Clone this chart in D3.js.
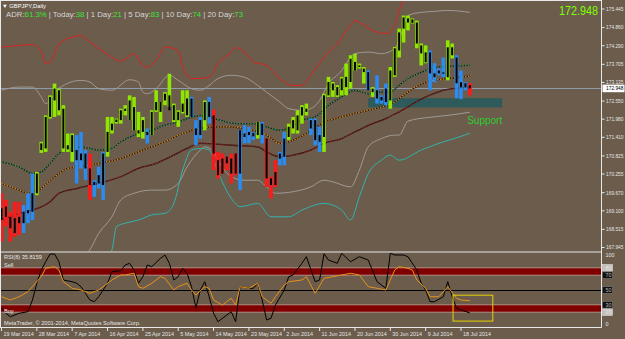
<!DOCTYPE html>
<html>
<head>
<meta charset="utf-8">
<script src="https://cdn.jsdelivr.net/npm/d3@7/dist/d3.min.js"></script>
<style>
  html, body { margin: 0; padding: 0; background: #6b5c4c; }
  svg { display: block; font-family: "Liberation Sans", "DejaVu Sans", Arial, sans-serif; }
</style>
</head>
<body>
<div id="chart"></div>
<script>
// ----------------------------------------------------------------------------
// DATA (GBPJPY daily, 19 Mar 2014 .. 21 Jul 2014, one entry per bar)
// ----------------------------------------------------------------------------
const barColor = ('rrrrrbbbgg' + 'gggggggbbb' + 'rbbbgggggg' + 'gggbgggggg' + 'gggbbbgbrr' +
                  'rrrrbbbbgb' + 'rrrbbggggg' + 'bbbggggggg' + 'gggbgbbbgg' + 'gggggggbbb' +
                  'bggbbbr').split('');

const barOpen = [169.18,169.23,168.91,168.87,168.91,169.07,169.12,169.65,169.65,171.01,
  171.06,172.05,172.57,172.26,172.31,171.03,170.95,171.01,170.90,170.90,
  170.43,170.01,170.22,169.91,170.95,171.63,171.89,171.95,172.24,171.95,
  172.36,171.53,171.58,171.58,171.48,172.26,172.21,172.57,172.73,171.95,
  171.95,172.21,172.10,172.63,171.69,171.48,171.95,172.52,172.10,170.69,
  170.74,170.80,170.74,170.90,170.27,171.53,171.58,171.55,171.48,171.84,
  171.37,170.12,170.32,170.74,170.80,171.42,171.69,171.63,172.10,172.21,
  171.95,171.95,171.48,171.42,172.73,172.89,172.73,172.89,172.99,173.15,
  173.51,173.62,173.46,173.46,172.83,172.89,172.68,172.94,172.57,173.36,
  174.14,174.83,175.02,175.01,175.02,174.30,174.08,174.08,173.42,173.51,
  173.45,173.30,174.24,173.92,173.14,173.11,173.05];
const barHigh = [169.65,169.44,169.07,169.38,169.38,169.28,169.65,170.27,170.32,171.27,
  172.10,172.73,173.10,172.94,172.42,171.53,171.53,171.48,171.58,171.01,
  170.90,170.06,170.48,170.95,172.05,172.05,172.00,172.31,172.42,172.73,
  172.68,172.21,172.05,171.69,172.26,172.89,172.52,172.83,173.41,172.47,
  172.26,172.89,172.89,172.68,171.95,172.05,172.57,172.68,172.28,170.95,
  170.90,170.80,170.90,170.90,171.63,171.79,171.74,171.58,171.89,171.89,
  171.37,170.17,170.69,170.95,171.58,171.84,172.05,172.26,172.42,172.47,
  172.00,172.00,171.74,172.78,173.31,173.15,173.05,173.31,173.73,173.99,
  174.04,173.73,173.62,173.51,172.99,173.36,172.73,173.10,173.62,174.25,
  174.83,175.24,175.24,175.15,175.08,174.36,174.30,174.14,173.74,173.58,
  173.92,174.46,174.36,173.99,173.51,173.14,173.11];
const barLow = [168.13,168.60,168.13,168.28,168.34,168.40,168.71,168.81,169.59,170.92,
  170.95,172.00,172.05,172.10,170.95,170.95,170.64,169.96,170.43,170.06,
  169.44,169.54,169.80,169.44,170.80,171.53,171.84,171.84,172.10,171.95,
  171.63,171.42,171.37,171.22,171.48,172.21,171.89,172.42,172.36,171.89,
  171.74,172.16,172.05,172.05,171.16,171.37,171.63,171.84,170.38,170.12,
  170.27,170.38,169.96,170.22,169.75,171.22,171.22,171.32,171.37,171.22,
  169.85,169.49,169.85,170.53,170.53,171.32,171.53,171.53,171.84,172.10,
  171.48,171.16,170.95,170.95,172.68,172.68,172.68,172.73,172.73,172.94,
  173.51,173.57,173.10,172.89,172.68,172.47,172.47,172.42,172.31,173.31,
  173.92,174.39,174.77,174.99,174.21,173.67,173.74,172.89,173.14,173.36,
  173.30,173.20,173.89,172.64,172.61,172.89,172.73];
const barClose = [168.81,168.91,168.55,168.40,168.71,168.71,169.02,169.07,170.27,171.22,
  172.05,172.68,172.94,172.89,171.06,171.16,171.48,170.69,170.69,170.43,
  169.91,169.91,169.96,170.90,171.58,171.84,171.97,172.26,172.31,172.57,
  171.63,171.63,171.95,171.48,172.21,172.52,172.52,172.78,172.26,172.42,
  172.21,172.47,172.63,172.05,171.48,171.95,172.52,172.05,170.90,170.22,
  170.27,170.59,170.27,170.27,171.63,171.42,171.48,171.44,171.89,171.48,
  170.12,169.91,169.91,170.90,171.37,171.74,171.95,172.10,172.36,172.31,
  171.69,171.32,171.27,172.73,173.15,173.10,172.99,173.26,173.31,173.88,
  173.78,173.67,173.57,172.89,172.94,172.63,172.57,172.52,173.51,174.21,
  174.71,175.18,175.15,175.12,174.36,174.05,173.77,173.42,173.30,173.42,
  173.41,174.24,173.99,173.11,172.98,172.98,172.948];

const dateLabels = ['19 Mar 2014','28 Mar 2014','7 Apr 2014','16 Apr 2014','25 Apr 2014',
  '5 May 2014','14 May 2014','23 May 2014','2 Jun 2014','11 Jun 2014','20 Jun 2014',
  '30 Jun 2014','9 Jul 2014','18 Jul 2014'];
const dateLabelEvery = 8; /* one label per 8 bars */

const priceTicks = [175.445,174.860,174.290,173.705,173.135,172.550,171.980,171.410,
  170.825,170.255,169.670,169.100,168.515,167.945];
const lastPrice = 172.948;

// indicator lines: [bar, price]
const bandRedUpper = [[0,174.25],[4,174.30],[7,174.33],[9,174.09],[10,173.73],[11,173.78],[13,174.35],
  [15,174.51],[18,174.61],[19,174.51],[22,174.20],[25,173.93],[27,173.81],[30,174.04],[32,173.67],
  [33,173.62],[35,173.83],[37,174.25],[40,174.14],[41,173.62],[43,173.26],[45,173.26],[47,173.30],
  [49,173.73],[52,174.09],[53,174.23],[55,174.09],[57,173.78],[60,173.67],[63,173.26],[66,173.04],
  [68,173.04],[70,173.36],[73,173.93],[76,174.35],[79,174.93],[80,175.08],[81,175.03],[84,174.77],
  [87,174.67],[89,174.93],[90,175.40],[92,176.03]];
const bandGrayUpper = [[0,172.89],[4,172.99],[7,172.99],[9,172.68],[10,172.47],[13,172.95],[18,173.20],
  [20,173.15],[22,172.94],[25,172.89],[29,173.22],[31,173.15],[32,172.83],[33,172.78],[35,172.94],
  [38,173.36],[40,173.20],[43,172.94],[45,172.89],[47,173.04],[49,173.26],[52,173.36],[55,173.30],
  [58,173.04],[60,172.83],[63,172.52],[65,172.31],[68,172.26],[70,172.31],[72,172.57],[74,173.10],
  [77,173.51],[78,173.73],[80,174.04],[83,174.09],[86,174.04],[89,174.20],[90,174.46],[92,175.24],
  [95,175.34],[98,175.37],[101,175.40],[106,175.34]];
const bandGrayLower = [[10,166.90],[17,167.40],[20,167.87],[22,168.39],[25,168.91],[27,169.44],
  [30,169.65],[34,169.75],[37,169.75],[40,169.96],[42,170.48],[45,171.01],[46,171.11],[48,170.95],
  [49,170.69],[52,170.17],[55,170.06],[58,170.06],[60,169.85],[62,169.65],[66,169.70],[70,169.85],
  [73,170.06],[75,170.01],[79,169.85],[81,170.38],[83,171.11],[86,171.37],[89,171.48],[90,171.48],
  [92,171.92],[97,172.04],[101,172.10],[106,172.20]];
const bandCyanLower = [[20,167.00],[25,167.87],[26,168.60],[28,168.71],[31,168.81],[34,168.97],
  [37,169.02],[39,169.33],[41,170.38],[43,171.01],[45,171.06],[47,171.01],[49,170.32],[52,169.49],
  [54,169.23],[58,169.33],[61,168.91],[65,168.91],[68,169.12],[73,169.33],[77,169.12],[79,168.81],
  [81,169.54],[83,170.27],[86,170.69],[88,170.85],[90,170.69],[95,171.01],[99,171.22],[104,171.44],
  [106,171.54]];
const maFast = [[0,170.64],[4,170.48],[7,170.27],[9,170.32],[11,170.59],[13,170.90],[15,171.01],
  [18,171.11],[20,171.06],[22,171.01],[25,171.06],[27,171.27],[30,171.48],[34,171.63],[37,171.79],
  [40,171.89],[42,172.00],[45,172.10],[48,172.00],[51,171.89],[54,171.84],[57,171.84],[60,171.74],
  [63,171.63],[65,171.69],[68,171.95],[71,172.05],[74,172.42],[77,172.68],[80,172.89],[83,172.78],
  [86,172.83],[88,172.83],[90,173.05],[92,173.26],[95,173.45],[97,173.58],[101,173.64],[106,173.67]];
const maMedium = [[0,169.96],[4,169.75],[6,169.65],[9,169.80],[12,170.17],[15,170.43],[18,170.48],
  [22,170.59],[27,170.74],[30,170.90],[34,171.11],[37,171.27],[41,171.53],[45,171.69],[49,171.74],
  [52,171.74],[56,171.65],[60,171.48],[63,171.22],[65,171.27],[69,171.53],[73,171.89],[77,172.05],
  [80,172.16],[83,172.26],[86,172.36],[89,172.52],[90,172.63],[96,173.14],[101,173.26],[106,173.33]];
const maSlow = [[0,168.81],[4,169.02],[7,169.12],[11,169.38],[13,169.65],[17,169.80],[22,169.96],
  [27,170.17],[31,170.43],[35,170.59],[39,170.85],[42,171.06],[45,171.22],[52,171.16],[58,171.11],
  [60,170.95],[63,170.80],[66,170.85],[70,171.01],[73,171.22],[77,171.37],[80,171.58],[84,171.84],
  [87,172.00],[90,172.21],[96,172.68],[101,172.92],[106,172.97]];

const supportZone = {fromBar: 83, toBar: 113.3, top: 172.64, bottom: 172.35, label: 'Support', labelBar: 105.4, labelPrice: 171.82};

const headerStats = [['ADR:', '61.3%'], [' | Today:', '38'], [' | 1 Day:', '21'], [' | 5 Day:', '83'],
  [' | 10 Day:', '74'], [' | 20 Day:', '73']];

// oscillator panel: [bar, value]
const rsiMain = [[0,40.9],[2,36.5],[4,40.9],[6,47.7],[7,54.5],[9,68],[10,79.3],[12,81.5],[13,77],
  [14,61.2],[16,52.3],[18,50],[20,45.5],[22,50],[25,63.5],[27,70.3],[28,70.3],[30,72.6],[31,54.5],
  [32,52.3],[34,59.1],[36,68],[37,65.8],[39,50],[40,54.5],[42,59.1],[43,50],[44,43.2],[46,54.5],
  [47,52.3],[48,36.5],[50,29.7],[51,34.2],[52,38.8],[53,29.7],[54,54.5],[56,52.3],[58,59.1],
  [59,40.9],[61,32],[62,40.9],[64,56.8],[65,61.2],[68,63.5],[69,68],[71,45.5],[73,65.8],[75,68],
  [77,70.3],[79,72.6],[81,70.3],[83,54.5],[85,52.3],[87,50],[89,77],[90,81.5],[92,79.3],[93,77],
  [94,63.5],[96,52.3],[97,40.9],[99,40.9],[101,54.5],[103,38.8],[104,36.5],[106,35.5]];
const rsiFast = [[0,25.3],[1,18.5],[2,13.9],[4,18.5],[6,20.7],[7,36.5],[8,59.1],[9,77],[10,88.2],
  [11,98.6],[12,98.6],[13,88.2],[14,63.5],[16,61.2],[17,59.1],[18,54.5],[20,36.5],[21,34.2],
  [22,40.9],[24,59.1],[25,74.7],[27,76.1],[28,83.8],[29,86.1],[30,77],[31,59.1],[32,68],[33,83.8],
  [34,81.5],[36,92.8],[37,97.3],[38,86.1],[39,63.5],[40,68],[41,79.3],[42,72.6],[43,54.5],[44,25.7],
  [45,50],[46,61.2],[47,40.9],[48,18.5],[49,7.2],[51,16.2],[52,20.7],[53,7.2],[54,54.5],[56,52.3],
  [57,52.3],[58,59.1],[59,36.5],[60,9.5],[61,11.8],[62,29.7],[64,50],[65,68],[66,70.3],[68,86.1],
  [69,95],[71,61.2],[72,63.5],[73,99],[74,90.5],[76,86.1],[77,99.6],[79,88.2],[81,95],[83,90.5],
  [85,61.2],[87,52.3],[88,99.6],[89,97.3],[91,97.3],[92,95],[94,77],[95,59.1],[96,50],[97,34.2],
  [98,34.2],[100,40.9],[101,61.2],[102,40.9],[103,25.3],[104,23],[106,19]];
const rsiBands = [[70, 80], [20, 30]];
const rsiLevelLines = [80, 70, 30, 20];
const rsiAxisLabels = [[100, 'none'], [80, 'light'], [70, 'dark'], [50, 'dark'], [30, 'dark'], [20, 'light'], [0, 'none']];
const rsiTitle = 'RSI(8) 35.8159';
const highlightBox = {fromBar: 102.2, toBar: 111.2, top: 43, bottom: 8};

const colorVariables = {
  background: '#6b5c4c',
  frame: '#e8e8e8',
  text: '#e6e6e6',
  candle: {g: '#8fe600', b: '#2a8cf0', r: '#ff1a1a'},
  bandRed: '#dc2420',
  bandGray: '#a09a94',
  bandCyan: '#33b3ad',
  maFast: '#3f9b62',
  maMedium: '#e38a1a',
  maSlow: '#9a1e1e',
  priceLine: '#8c9bab',
  support: '#2e5a5b',
  supportText: '#30cc30',
  lime: '#7fff00',
  statGreen: '#33e633',
  rsiBand: '#800000',
  rsiLevel: '#bca59a',
  rsiMain: '#e6931a',
  highlight: '#e6d200',
};

// ----------------------------------------------------------------------------
// SIZE + SCALES
// ----------------------------------------------------------------------------
const svgWidth = 625, svgHeight = 339;
const axisX = 601.5;
const mainTop = 1, mainBottom = 251.5;
const rsiTop = 253, rsiBottom = 327;

const svg = d3.select('#chart').append('svg')
  .attr('width', svgWidth)
  .attr('height', svgHeight);

svg.append('rect')
  .attr('width', svgWidth).attr('height', svgHeight)
  .attr('fill', colorVariables.background);

const xScale = d3.scaleLinear().domain([0, 104]).range([1.5, 461]);
const yScale = d3.scaleLinear().domain([167.945, 175.445]).range([247.5, 9]);
const rsiScale = d3.scaleLinear().domain([0, 100]).range([rsiBottom, rsiTop]);

const defs = svg.append('defs');
defs.append('clipPath').attr('id', 'clip-main')
  .append('rect').attr('x', 1).attr('y', mainTop).attr('width', axisX - 1).attr('height', mainBottom - mainTop);
defs.append('clipPath').attr('id', 'clip-rsi')
  .append('rect').attr('x', 1).attr('y', rsiTop).attr('width', axisX - 1).attr('height', rsiBottom - rsiTop);

const layers = {
  main: svg.append('g').attr('clip-path', 'url(#clip-main)'),
  rsi: svg.append('g').attr('clip-path', 'url(#clip-rsi)'),
  frame: svg.append('g'),
  axis: svg.append('g').attr('font-size', 5.4).attr('fill', colorVariables.text),
  labels: svg.append('g'),
};

const pairLine = d3.line().x(d => xScale(d[0])).y(d => yScale(d[1])).curve(d3.curveMonotoneX);
const rsiLine = d3.line().x(d => xScale(d[0])).y(d => rsiScale(d[1]));

// ----------------------------------------------------------------------------
// MAIN PANEL: support zone, price line, bands, moving averages, bars
// ----------------------------------------------------------------------------
layers.main.append('rect')
  .attr('x', xScale(supportZone.fromBar))
  .attr('y', yScale(supportZone.top))
  .attr('width', xScale(supportZone.toBar) - xScale(supportZone.fromBar))
  .attr('height', yScale(supportZone.bottom) - yScale(supportZone.top))
  .attr('fill', colorVariables.support);

layers.main.append('line')
  .attr('x1', 0).attr('x2', axisX)
  .attr('y1', Math.round(yScale(lastPrice)) + 0.5).attr('y2', Math.round(yScale(lastPrice)) + 0.5)
  .attr('stroke', colorVariables.priceLine).attr('stroke-width', 1);

[[bandRedUpper, colorVariables.bandRed], [bandGrayUpper, colorVariables.bandGray],
 [bandGrayLower, colorVariables.bandGray], [bandCyanLower, colorVariables.bandCyan]].forEach(([data, color]) => {
  layers.main.append('path')
    .datum(data)
    .attr('d', pairLine)
    .attr('fill', 'none')
    .attr('stroke', color)
    .attr('stroke-width', 1);
});

// dotted averages: a dark base with coloured dots on top
[[maSlow, colorVariables.maSlow], [maMedium, colorVariables.maMedium], [maFast, colorVariables.maFast]].forEach(([data, color]) => {
  layers.main.append('path')
    .datum(data)
    .attr('d', pairLine)
    .attr('fill', 'none')
    .attr('stroke', '#1e1a16')
    .attr('stroke-width', 1.3);
  layers.main.append('path')
    .datum(data)
    .attr('d', pairLine)
    .attr('fill', 'none')
    .attr('stroke', color)
    .attr('stroke-width', 1.3)
    .attr('stroke-dasharray', '1.4 1.4');
});

const bars = barOpen.map((o, i) => ({i, o, h: barHigh[i], l: barLow[i], c: barClose[i], color: barColor[i]}));

layers.main.selectAll('.bar-range').data(bars).enter()
  .append('rect')
    .attr('class', 'bar-range')
    .attr('x', d => xScale(d.i) - 1.8)
    .attr('width', 3.6)
    .attr('y', d => yScale(d.h))
    .attr('height', d => Math.max(1, yScale(d.l) - yScale(d.h)))
    .attr('fill', d => colorVariables.candle[d.color]);

layers.main.selectAll('.bar-body').data(bars).enter()
  .append('rect')
    .attr('class', 'bar-body')
    .attr('x', d => xScale(d.i) - 1)
    .attr('width', 2)
    .attr('y', d => yScale(Math.max(d.o, d.c)))
    .attr('height', d => Math.max(1, Math.abs(yScale(d.o) - yScale(d.c))))
    .attr('fill', '#000');

layers.main.append('text')
  .attr('x', xScale(supportZone.labelBar))
  .attr('y', yScale(supportZone.labelPrice))
  .attr('font-size', 10)
  .attr('fill', colorVariables.supportText)
  .text(supportZone.label);

// ----------------------------------------------------------------------------
// OSCILLATOR PANEL
// ----------------------------------------------------------------------------
layers.rsi.selectAll('.rsi-band').data(rsiBands).enter()
  .append('rect')
    .attr('x', 0).attr('width', axisX)
    .attr('y', d => rsiScale(d[1]))
    .attr('height', d => rsiScale(d[0]) - rsiScale(d[1]))
    .attr('fill', colorVariables.rsiBand);

layers.rsi.selectAll('.rsi-level').data(rsiLevelLines).enter()
  .append('line')
    .attr('x1', 0).attr('x2', axisX)
    .attr('y1', d => rsiScale(d)).attr('y2', d => rsiScale(d))
    .attr('stroke', colorVariables.rsiLevel).attr('stroke-width', 0.8);

layers.rsi.append('line')
  .attr('x1', 0).attr('x2', axisX)
  .attr('y1', Math.round(rsiScale(50)) + 0.5).attr('y2', Math.round(rsiScale(50)) + 0.5)
  .attr('stroke', '#000').attr('stroke-width', 1);

layers.rsi.append('path').datum(rsiFast)
  .attr('d', rsiLine).attr('fill', 'none').attr('stroke', '#000').attr('stroke-width', 1);
layers.rsi.append('path').datum(rsiMain)
  .attr('d', rsiLine).attr('fill', 'none').attr('stroke', colorVariables.rsiMain).attr('stroke-width', 1);

layers.rsi.append('rect')
  .attr('x', xScale(highlightBox.fromBar))
  .attr('y', rsiScale(highlightBox.top))
  .attr('width', xScale(highlightBox.toBar) - xScale(highlightBox.fromBar))
  .attr('height', rsiScale(highlightBox.bottom) - rsiScale(highlightBox.top))
  .attr('fill', 'none').attr('stroke', colorVariables.highlight).attr('stroke-width', 1);

const rsiText = layers.rsi.append('g').attr('font-size', 5.6).attr('fill', colorVariables.text);
rsiText.append('text').attr('x', 4).attr('y', 259).text(rsiTitle);
rsiText.append('text').attr('x', 4).attr('y', 266.5).text('Sell');
rsiText.append('text').attr('x', 4).attr('y', 313).text('Buy');
rsiText.append('text').attr('x', 4).attr('y', 325).text('MetaTrader, \u00a9 2001-2014, MetaQuotes Software Corp.');

// ----------------------------------------------------------------------------
// FRAME
// ----------------------------------------------------------------------------
const frameLines = [
  [0.5, 0, 0.5, rsiBottom + 0.5],
  [0, 0.5, axisX, 0.5],
  [axisX, 0, axisX, rsiBottom + 0.5],
  [0, rsiBottom + 0.5, axisX, rsiBottom + 0.5],
  [0, mainBottom + 0.5, axisX, mainBottom + 0.5],
];
layers.frame.selectAll('line').data(frameLines).enter()
  .append('line')
    .attr('x1', d => d[0]).attr('y1', d => d[1]).attr('x2', d => d[2]).attr('y2', d => d[3])
    .attr('stroke', colorVariables.frame).attr('stroke-width', 1);

// ----------------------------------------------------------------------------
// AXES
// ----------------------------------------------------------------------------
const priceFmt = d3.format('.3f');
const priceTick = layers.axis.selectAll('.price-tick').data(priceTicks).enter()
  .append('g').attr('transform', d => `translate(${axisX},${yScale(d)})`);
priceTick.append('line').attr('x1', 0).attr('x2', 3).attr('stroke', colorVariables.frame);
priceTick.append('text').attr('x', 4.5).attr('dy', '0.35em').attr('textLength', 17.5)
  .attr('lengthAdjust', 'spacingAndGlyphs').text(priceFmt);

const lastY = yScale(lastPrice);
layers.axis.append('rect').attr('x', axisX + 1).attr('y', lastY - 3.8).attr('width', 22).attr('height', 7.6).attr('fill', '#fff');
layers.axis.append('text').attr('x', axisX + 4.5).attr('y', lastY).attr('dy', '0.35em').attr('fill', '#000')
  .attr('textLength', 17.5).attr('lengthAdjust', 'spacingAndGlyphs').text(priceFmt(lastPrice));

const rsiTick = layers.axis.selectAll('.rsi-tick').data(rsiAxisLabels).enter()
  .append('g').attr('transform', d => `translate(${axisX},${Math.min(rsiBottom - 2.5, Math.max(rsiTop + 2.5, rsiScale(d[0])))})`);
rsiTick.filter(d => d[1] !== 'none').append('rect')
  .attr('x', 1).attr('y', -3.3).attr('width', 10).attr('height', 6.6)
  .attr('fill', d => d[1] === 'dark' ? '#111' : '#c4c0bc')
  .attr('stroke', d => d[1] === 'dark' ? '#888' : '#eee').attr('stroke-width', 0.5);
rsiTick.append('text').attr('x', 4).attr('dy', '0.35em')
  .attr('fill', d => d[1] === 'dark' ? '#bbb' : colorVariables.text)
  .text(d => d[0]);

const dateTick = layers.axis.selectAll('.date-tick').data(dateLabels).enter()
  .append('g').attr('transform', (d, k) => `translate(${xScale(k * dateLabelEvery)},${rsiBottom})`);
dateTick.append('line').attr('y1', 0).attr('y2', 4).attr('stroke', colorVariables.frame);
dateTick.append('text').attr('x', 2).attr('y', 8.6).text(d => d);

// ----------------------------------------------------------------------------
// HEADER TEXTS
// ----------------------------------------------------------------------------
layers.labels.append('text').attr('x', 2).attr('y', 7.5).attr('font-size', 5.8).attr('fill', '#fff')
  .text('\u25bc GBPJPY,Daily');

const stats = layers.labels.append('text').attr('x', 6).attr('y', 17).attr('font-size', 8)
  .attr('textLength', 237).attr('lengthAdjust', 'spacingAndGlyphs');
headerStats.forEach(([label, value]) => {
  stats.append('tspan').attr('fill', '#d6d6d6').text(label);
  stats.append('tspan').attr('fill', colorVariables.statGreen).text(value);
});

layers.labels.append('text').attr('x', 598).attr('y', 15).attr('text-anchor', 'end')
  .attr('font-size', 13).attr('fill', colorVariables.lime)
  .attr('textLength', 39).attr('lengthAdjust', 'spacingAndGlyphs')
  .text(priceFmt(lastPrice));
</script>
</body>
</html>
